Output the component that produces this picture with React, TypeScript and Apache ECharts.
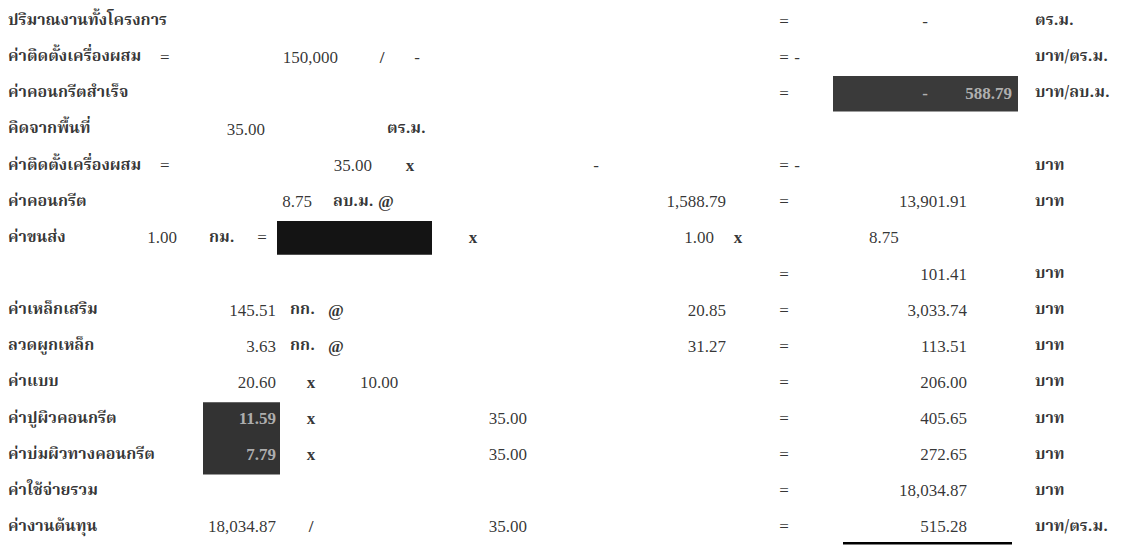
import React, { useEffect, useRef } from "react";
import * as echarts from "echarts";

// ---------- data ----------
const rowLabels = [
  "ปริมาณงานทั้งโครงการ",
  "ค่าติดตั้งเครื่องผสม",
  "ค่าคอนกรีตสำเร็จ",
  "คิดจากพื้นที่",
  "ค่าติดตั้งเครื่องผสม",
  "ค่าคอนกรีต",
  "ค่าขนส่ง",
  "",
  "ค่าเหล็กเสริม",
  "ลวดผูกเหล็ก",
  "ค่าแบบ",
  "ค่าปูผิวคอนกรีต",
  "ค่าบ่มผิวทางคอนกรีต",
  "ค่าใช้จ่ายรวม",
  "ค่างานต้นทุน",
];

const resultValues = [
  "", "", "", "", "", "13,901.91", "", "101.41", "3,033.74", "113.51",
  "206.00", "405.65", "272.65", "18,034.87", "515.28",
];

const resultUnits = [
  "ตร.ม.", "บาท/ตร.ม.", "บาท/ลบ.ม.", "", "บาท", "บาท", "", "บาท", "บาท",
  "บาท", "บาท", "บาท", "บาท", "บาท", "บาท/ตร.ม.",
];

const equalsRows = [0, 1, 2, 4, 5, 7, 8, 9, 10, 11, 12, 13, 14];

// [row, column key, text]
const formulaTerms: [number, string, string][] = [
  [0, "dashFar", "-"],
  [1, "eqLeft", "="], [1, "setupCost", "150,000"], [1, "slashA", "/"], [1, "dashA", "-"], [1, "dashNear", "-"],
  [3, "areaQty", "35.00"], [3, "areaUnit", "ตร.ม."],
  [4, "eqLeft", "="], [4, "setupArea", "35.00"], [4, "timesA", "x"], [4, "dashB", "-"], [4, "dashNear", "-"],
  [5, "concQty", "8.75"], [5, "concUnit", "ลบ.ม."], [5, "atA", "@"], [5, "price", "1,588.79"],
  [6, "distQty", "1.00"], [6, "distUnit", "กม."], [6, "eqMid", "="], [6, "timesB", "x"], [6, "factor", "1.00"], [6, "timesC", "x"], [6, "volume", "8.75"],
  [8, "qty", "145.51"], [8, "kgUnit", "กก."], [8, "atB", "@"], [8, "price", "20.85"],
  [9, "qty", "3.63"], [9, "kgUnit", "กก."], [9, "atB", "@"], [9, "price", "31.27"],
  [10, "qty", "20.60"], [10, "timesD", "x"], [10, "formRate", "10.00"],
  [11, "timesD", "x"], [11, "areaB", "35.00"],
  [12, "timesD", "x"], [12, "areaB", "35.00"],
  [14, "qty", "18,034.87"], [14, "timesD", "/"], [14, "areaB", "35.00"],
];

// values partly hidden under the dark scan blots
const maskedTerms: [number, string, string][] = [
  [2, "dashFar", "-"],
  [2, "maskPrice", "588.79"],
  [11, "qty", "11.59"],
  [12, "qty", "7.79"],
];

// ---------- layout ----------
const COLS: Record<string, [number, "left" | "right" | "center"]> = {
  label: [8, "left"],
  eqLeft: [160, "left"],
  distQty: [177, "right"],
  distUnit: [209, "left"],
  eqMid: [262, "center"],
  areaQty: [265, "right"],
  qty: [276, "right"],
  kgUnit: [290, "left"],
  timesD: [311, "center"],
  concQty: [312, "right"],
  concUnit: [333, "left"],
  atB: [336, "center"],
  setupCost: [338, "right"],
  formRate: [360, "left"],
  setupArea: [372, "right"],
  slashA: [382, "center"],
  atA: [386, "center"],
  areaUnit: [387, "left"],
  timesA: [410, "center"],
  dashA: [417, "center"],
  timesB: [473, "center"],
  areaB: [527, "right"],
  dashB: [596, "center"],
  factor: [714, "right"],
  price: [726, "right"],
  timesC: [738, "center"],
  eqRight: [784, "center"],
  dashNear: [797, "center"],
  volume: [869, "left"],
  dashFar: [925, "center"],
  result: [967, "right"],
  maskPrice: [1012, "right"],
  unit: [1035, "left"],
};

const NUM_FONT = "'Liberation Serif', serif";
const THAI_FONT = "'Noto Serif Thai', 'Noto Sans Thai Looped', 'Noto Sans Thai', 'Liberation Serif', serif";
const THAI_RE = /[\u0E00-\u0E7F]/;

function cell(row: number, key: string, text: string, color = "#000") {
  const [x, align] = COLS[key];
  const thai = THAI_RE.test(text);
  const sym = text === "x" || text === "@" || text === "/";
  return {
    value: [x, row],
    text,
    label: {
      align,
      color,
      fontFamily: thai ? THAI_FONT : NUM_FONT,
      fontWeight: thai || sym ? "bold" : "normal",
      fontSize: thai ? 16 : 17,
    },
  };
}

function buildCells() {
  const out: any[] = [];
  rowLabels.forEach((t, r) => t && out.push(cell(r, "label", t)));
  equalsRows.forEach((r) => out.push(cell(r, "eqRight", "=")));
  resultValues.forEach((t, r) => t && out.push(cell(r, "result", t)));
  resultUnits.forEach((t, r) => t && out.push(cell(r, "unit", t)));
  formulaTerms.forEach(([r, k, t]) => out.push(cell(r, k, t)));
  return out;
}

function buildMasked() {
  return maskedTerms.map(([r, k, t]) => {
    const c = cell(r, k, t, "#d0d0d0");
    c.label.fontWeight = "bold";
    return c;
  });
}

export default function App() {
  const ref = useRef<HTMLDivElement>(null);
  useEffect(() => {
    if (!ref.current) return;
    const chart = echarts.init(ref.current, null, { renderer: "svg" });
    const labelBase = {
      show: true,
      position: "inside",
      verticalAlign: "middle",
      fontSize: 17,
      fontFamily: NUM_FONT,
      formatter: (p: any) => p.data.text,
    };
    chart.setOption({
      animation: false,
      backgroundColor: "#fff",
      grid: { left: 0, right: 0, top: 3, bottom: 0 },
      xAxis: { type: "value", min: 0, max: 1136, show: false },
      yAxis: {
        type: "category",
        inverse: true,
        show: false,
        data: rowLabels.map((_, i) => String(i)),
      },
      series: [
        {
          type: "scatter",
          symbolSize: 0,
          z: 5,
          label: { ...labelBase, color: "#000" },
          data: buildCells(),
        },
        {
          type: "scatter",
          symbolSize: 0,
          z: 6,
          label: { ...labelBase },
          data: buildMasked(),
        },
      ],
    });
    const px = (x: number, r: number) =>
      chart.convertToPixel({ gridIndex: 0 }, [x, r]) as number[];
    const band = px(0, 1)[1] - px(0, 0)[1];
    const box = (x1: number, x2: number, r1: number, r2: number, fill: string, a = 0.5, b = 0.5) => {
      const y1 = px(0, r1)[1] - band * a;
      const y2 = px(0, r2)[1] + band * b;
      return {
        type: "rect",
        z: 1,
        shape: { x: x1, y: y1, width: x2 - x1, height: y2 - y1 },
        style: { fill },
      };
    };
    const lineY = px(0, 14)[1] + band * 0.42;
    chart.setOption({
      graphic: [
        box(833, 1018, 2, 2, "#3a3a3a", 0.48, 0.5),
        box(277, 432, 6, 6, "#141414", 0.47, 0.47),
        box(203, 280, 11, 12, "#333", 0.45, 0.55),
        {
          type: "rect",
          z: 1,
          shape: { x: 843, y: lineY, width: 169, height: 2.5 },
          style: { fill: "#000" },
        },
      ],
    });
    return () => chart.dispose();
  }, []);
  return (
    <div
      ref={ref}
      style={{ position: "absolute", left: 0, top: 0, width: 1136, height: 545, background: "#fff" }}
    />
  );
}
